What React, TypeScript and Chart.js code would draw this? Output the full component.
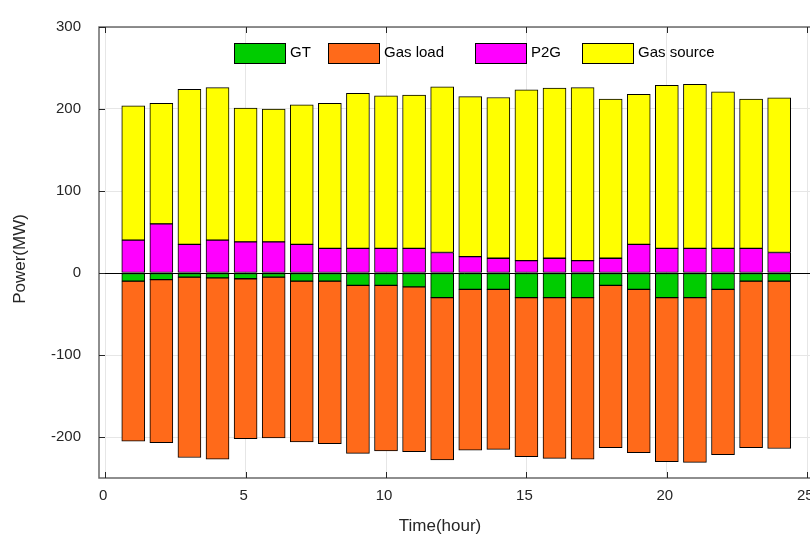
import React, { useEffect, useRef } from 'react';
import { Chart, registerables } from 'chart.js';

Chart.register(...registerables);

const hours = [1, 2, 3, 4, 5, 6, 7, 8, 9, 10, 11, 12, 13, 14, 15, 16, 17, 18, 19, 20, 21, 22, 23, 24];
const gtValues = [-10, -8, -5, -6, -7, -5, -10, -10, -15, -15, -17, -30, -20, -20, -30, -30, -30, -15, -20, -30, -30, -20, -10, -10];
const gasLoadValues = [-195, -199, -220, -221, -195, -196, -196, -198, -205, -202, -201, -198, -196, -195, -194, -196, -197, -198, -199, -200, -201, -201.5, -203, -204];
const p2gValues = [40, 60, 35, 40, 38, 38, 35, 30, 30, 30, 30, 25, 20, 18, 15, 18, 15, 18, 35, 30, 30, 30, 30, 25];
const gasSourceValues = [164, 147, 189, 186, 163, 162, 170, 177, 189, 186, 187, 202, 195, 196, 208.5, 207.5, 211, 194, 183, 199, 200, 191, 182, 188.5];

const seriesNames = ['GT', 'Gas load', 'P2G', 'Gas source'];
const seriesColors = ['#00CC00', '#FF6A1A', '#FF00FF', '#FFFF00'];
const xAxisTitle = 'Time(hour)';
const yAxisTitle = 'Power(MW)';

const FONT = '"Liberation Sans", Arial, Helvetica, sans-serif';
const legendLefts = [234, 328, 475, 582];

const framePlugin = {
  id: 'matlabFrame',
  afterDatasetsDraw(chart: any) {
    const { ctx, chartArea } = chart;
    const { left, top, right, bottom } = chartArea;
    const xs = chart.scales.x;
    const ys = chart.scales.y;
    ctx.save();
    // frame
    ctx.strokeStyle = '#6a6a6a';
    ctx.lineWidth = 1.5;
    ctx.beginPath();
    ctx.rect(left, top, right - left, bottom - top);
    ctx.stroke();
    // inward ticks
    ctx.strokeStyle = '#262626';
    ctx.lineWidth = 1;
    ctx.beginPath();
    ys.ticks.forEach((t: any) => {
      const py = Math.round(ys.getPixelForValue(t.value)) + 0.5;
      ctx.moveTo(left, py);
      ctx.lineTo(left + 6, py);
      ctx.moveTo(right, py);
      ctx.lineTo(right - 6, py);
    });
    xs.ticks.forEach((t: any) => {
      const px = Math.round(xs.getPixelForValue(t.value)) + 0.5;
      ctx.moveTo(px, bottom);
      ctx.lineTo(px, bottom - 6);
      ctx.moveTo(px, top);
      ctx.lineTo(px, top + 6);
    });
    ctx.stroke();

    // axis titles
    ctx.fillStyle = '#262626';
    ctx.font = `17px ${FONT}`;
    ctx.textAlign = 'center';
    ctx.textBaseline = 'middle';
    ctx.fillText(xAxisTitle, 440, 526);
    ctx.save();
    ctx.translate(20, 259);
    ctx.rotate(-Math.PI / 2);
    ctx.fillText(yAxisTitle, 0, 0);
    ctx.restore();

    // legend
    ctx.font = `15px ${FONT}`;
    ctx.textAlign = 'left';
    ctx.textBaseline = 'alphabetic';
    chart.data.datasets.forEach((ds: any, i: number) => {
      const bx = legendLefts[i];
      ctx.fillStyle = ds.backgroundColor;
      ctx.fillRect(bx, 43.5, 51, 20);
      ctx.strokeStyle = '#000';
      ctx.lineWidth = 1;
      ctx.strokeRect(bx + 0.5, 43.5, 51, 20);
      ctx.fillStyle = '#000';
      ctx.fillText(ds.label, bx + 56, 56.5);
    });
    ctx.restore();
  },
};

export default function App() {
  const canvasRef = useRef<HTMLCanvasElement | null>(null);

  useEffect(() => {
    document.documentElement.style.overflow = 'hidden';
    document.body.style.overflow = 'hidden';
    document.body.style.margin = '0';
    const canvas = canvasRef.current;
    if (!canvas) return;
    const valuesList = [gtValues, gasLoadValues, p2gValues, gasSourceValues];
    const chart = new Chart(canvas, {
      type: 'bar',
      data: {
        datasets: seriesNames.map((name, i) => ({
          label: name,
          data: hours.map((h, j) => ({ x: h, y: valuesList[i][j] })),
          backgroundColor: seriesColors[i],
          borderColor: '#000000',
          borderWidth: 1,
          borderSkipped: false,
          barThickness: 23,
          stack: 'power',
        })),
      },
      options: {
        animation: false,
        responsive: true,
        maintainAspectRatio: false,
        layout: { padding: { top: 23, right: 10, left: 0, bottom: 0 } },
        plugins: {
          legend: { display: false },
          tooltip: { enabled: false },
        },
        scales: {
          x: {
            type: 'linear',
            stacked: true,
            min: -0.22,
            max: 25.81,
            offset: false,
            afterFit: (s: any) => {
              s.height = 63;
            },
            border: { display: false },
            grid: { color: '#e6e6e6', lineWidth: 1, drawTicks: false, offset: false },
            ticks: {
              stepSize: 5,
              includeBounds: false,
              autoSkip: false,
              maxRotation: 0,
              padding: 9,
              labelOffset: -2,
              color: '#262626',
              font: { family: FONT, size: 15 },
            },
          },
          y: {
            type: 'linear',
            stacked: true,
            min: -250,
            max: 300,
            afterFit: (s: any) => {
              s.width = 99;
            },
            border: { display: false },
            grid: {
              color: (c: any) => (c.tick && c.tick.value === 0 ? '#000000' : '#e6e6e6'),
              lineWidth: 1,
              drawTicks: false,
            },
            ticks: {
              stepSize: 100,
              includeBounds: false,
              autoSkip: false,
              padding: 18,
              color: '#262626',
              font: { family: FONT, size: 15 },
            },
          },
        },
      } as any,
      plugins: [framePlugin],
    });
    return () => chart.destroy();
  }, []);

  return (
    <div style={{ position: 'fixed', left: 0, top: 0, width: 840, height: 541, background: '#ffffff' }}>
      <canvas ref={canvasRef} />
    </div>
  );
}
